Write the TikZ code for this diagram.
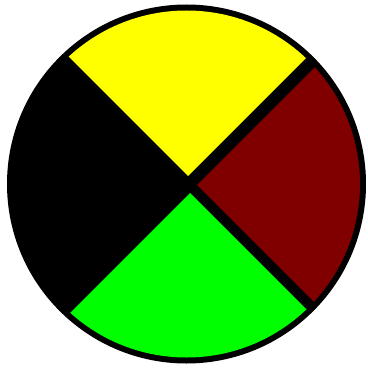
\documentclass[tikz,border=0pt]{standalone}
\definecolor{wyellow}{RGB}{255,255,0}
\definecolor{wred}{RGB}{128,0,0}
\definecolor{wgreen}{RGB}{0,255,0}
\begin{document}
\begin{tikzpicture}[x=1pt,y=-1pt]
\useasboundingbox (0,0) rectangle (367,369);
\fill[black] (186.5,184) circle[radius=179.5];
\begin{scope}
\clip (186.5,184) circle[radius=173.5];
\fill[wyellow] (188,176) -- ++(-300,-300) -- ++(600,0) -- cycle;
\fill[wred] (197,185) -- ++(300,-300) -- ++(0,600) -- cycle;
\fill[wgreen] (190,193) -- ++(300,300) -- ++(-600,0) -- cycle;
\end{scope}
\end{tikzpicture}
\end{document}
